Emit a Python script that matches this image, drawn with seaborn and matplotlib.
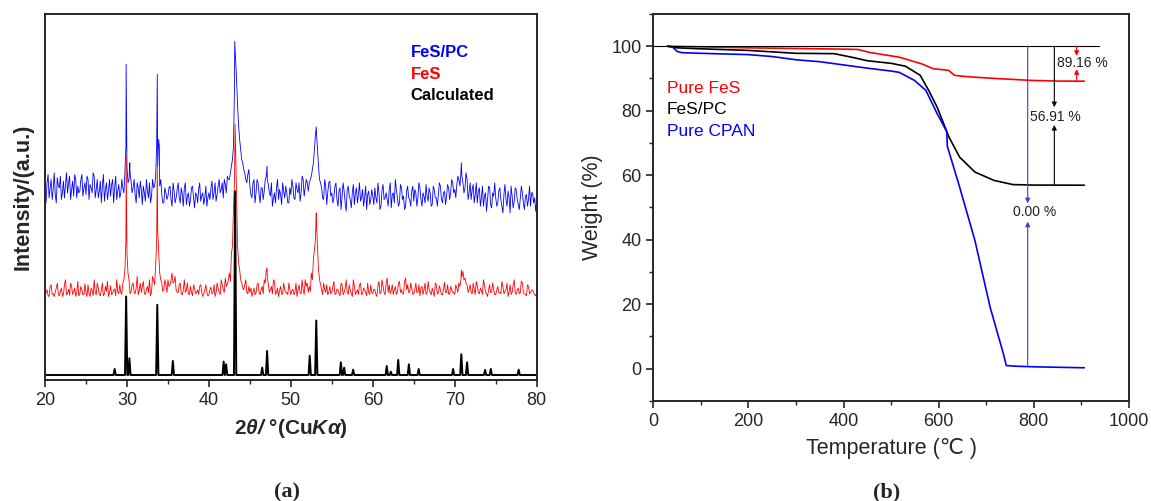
import numpy as np
import pandas as pd
import matplotlib
matplotlib.use("Agg")
import matplotlib.pyplot as plt
from matplotlib.ticker import MultipleLocator, NullLocator
import seaborn as sns

# ---------------- (a) XRD data ----------------
xrd_start, xrd_stop, xrd_step = 20.0, 80.0, 0.25
# values read on the 0.25-degree grid (20.00 ... 80.00)
fespc_vals = [
    560, 590, 545, 600, 570, 555, 605, 575, 540, 595, 585, 560, 610, 570, 550, 600, 580, 565, 615, 575,
    555, 600, 585, 560, 610, 570, 545, 595, 580, 535, 590, 565, 550, 600, 575, 540, 585, 560, 575, 620,
    640, 600, 595, 575, 555, 590, 545, 570, 580, 535, 565, 590, 550, 575, 610, 640, 580, 555, 530, 560,
    550, 580, 520, 565, 545, 590, 530, 555, 575, 525, 560, 540, 580, 515, 555, 570, 535, 560, 545, 520,
    560, 575, 540, 590, 555, 600, 570, 545, 585, 610, 600, 640, 700, 960, 820, 720, 660, 630, 600, 615,
    580, 545, 600, 560, 590, 530, 575, 565, 610, 585, 550, 520, 560, 575, 540, 555, 590, 545, 560, 530,
    555, 580, 540, 570, 590, 560, 600, 575, 590, 590, 610, 650, 735, 690, 600, 575, 540, 580, 560, 595,
    560, 545, 590, 520, 575, 550, 565, 505, 580, 540, 560, 525, 575, 555, 535, 570, 545, 510, 565, 540,
    550, 575, 530, 560, 520, 585, 545, 540, 570, 515, 560, 600, 545, 530, 575, 550, 520, 580, 540, 565,
    535, 560, 545, 575, 520, 550, 585, 535, 560, 525, 570, 545, 555, 580, 530, 565, 550, 575, 560, 590,
    570, 585, 600, 620, 590, 575, 600, 560, 540, 585, 555, 530, 575, 545, 520, 560, 540, 575, 515, 550,
    545, 530, 575, 520, 555, 540, 565, 500, 550, 535, 570, 525, 545, 560, 510, 555, 540, 520, 560, 545,
    535,
]
# values read half-way between grid points (20.125 ... 79.875)
fespc_mid = [
    530, 615, 575, 540, 620, 530, 580, 610, 560, 545, 620, 590, 540, 595, 615, 545, 560, 600, 550, 590,
    610, 540, 575, 620, 545, 600, 565, 530, 615, 570, 540, 600, 585, 530, 610, 565, 545, 600, 560, 700,
    590, 620, 560, 600, 530, 575, 595, 525, 560, 600, 545, 530, 600, 580, 700, 720, 600, 530, 575, 540,
    575, 540, 590, 530, 570, 545, 575, 520, 590, 550, 520, 575, 545, 560, 530, 590, 550, 525, 580, 545,
    540, 595, 560, 535, 580, 560, 590, 600, 560, 600, 620, 660, 880, 900, 760, 690, 650, 620, 590, 630,
    555, 590, 530, 600, 555, 575, 540, 600, 600, 560, 590, 545, 530, 600, 570, 525, 565, 580, 530, 575,
    600, 545, 590, 560, 535, 610, 550, 600, 565, 600, 630, 690, 740, 640, 590, 545, 600, 525, 590, 550,
    530, 580, 540, 565, 510, 590, 530, 570, 550, 515, 585, 560, 530, 590, 545, 520, 580, 555, 525, 570,
    525, 545, 590, 510, 570, 540, 560, 520, 590, 555, 530, 570, 520, 585, 540, 510, 565, 545, 520, 580,
    570, 520, 590, 540, 560, 530, 550, 575, 520, 580, 545, 520, 590, 540, 560, 525, 585, 540, 600, 560,
    545, 610, 580, 610, 560, 620, 540, 590, 570, 530, 590, 565, 520, 580, 550, 505, 580, 525, 560, 590,
    520, 565, 540, 500, 585, 520, 545, 580, 515, 575, 540, 510, 580, 530, 550, 520, 580, 560, 530, 505,
]
fespc_peak_x = [29.9, 30.35, 33.7, 33.95, 43.15, 47.1, 53.1, 70.8]
fespc_peak_y = [945, 650, 915, 700, 1013, 640, 757, 650]

fes_vals = [
    255, 270, 250, 285, 258, 262, 290, 252, 275, 256, 300, 260, 254, 280, 262, 250, 295, 258, 270, 255,
    262, 285, 250, 268, 300, 255, 276, 252, 290, 258, 265, 250, 282, 260, 272, 300, 258, 262, 290, 330,
    380, 300, 265, 290, 258, 310, 270, 262, 295, 256, 280, 300, 265, 300, 340, 450, 320, 290, 270, 285,
    300, 285, 320, 295, 270, 262, 290, 255, 300, 268, 258, 280, 252, 275, 262, 256, 285, 250, 270, 262,
    255, 278, 260, 250, 290, 262, 300, 270, 305, 285, 320, 380, 520, 700, 400, 330, 290, 270, 300, 258,
    262, 250, 275, 260, 290, 255, 280, 300, 330, 285, 270, 258, 295, 262, 250, 280, 258, 270, 262, 290,
    255, 272, 262, 250, 285, 258, 270, 300, 290, 280, 320, 360, 420, 400, 300, 270, 290, 262, 255, 280,
    262, 295, 258, 270, 252, 285, 262, 300, 256, 268, 250, 280, 262, 256, 290, 258, 270, 252, 262, 285,
    258, 270, 250, 295, 262, 280, 255, 305, 285, 268, 256, 280, 262, 295, 270, 258, 305, 285, 262, 275,
    258, 290, 262, 252, 280, 270, 256, 295, 262, 275, 250, 285, 260, 270, 255, 292, 262, 258, 280, 262,
    256, 275, 290, 300, 325, 305, 285, 270, 262, 290, 256, 280, 258, 268, 300, 262, 250, 285, 262, 270,
    255, 280, 262, 295, 258, 270, 250, 285, 262, 300, 256, 275, 262, 290, 258, 252, 280, 262, 270, 255,
    260,
]
fes_mid = [
    262, 252, 280, 256, 250, 275, 258, 265, 250, 285, 255, 272, 290, 256, 275, 262, 252, 280, 255, 288,
    250, 258, 275, 252, 262, 290, 256, 270, 252, 280, 295, 262, 255, 270, 252, 265, 285, 256, 300, 420,
    320, 258, 285, 262, 275, 255, 290, 280, 258, 270, 262, 252, 310, 285, 420, 380, 300, 265, 300, 262,
    280, 300, 290, 310, 262, 285, 258, 270, 262, 290, 255, 262, 285, 258, 270, 280, 262, 258, 285, 252,
    270, 258, 285, 262, 275, 256, 285, 262, 280, 300, 295, 400, 600, 550, 350, 300, 275, 285, 262, 280,
    275, 262, 255, 285, 262, 270, 258, 290, 310, 262, 280, 300, 256, 275, 268, 256, 290, 262, 255, 270,
    268, 255, 290, 270, 262, 300, 256, 280, 262, 265, 300, 390, 470, 330, 285, 256, 270, 285, 262, 258,
    280, 256, 272, 258, 290, 255, 275, 262, 285, 258, 300, 256, 270, 285, 255, 275, 262, 290, 256, 262,
    272, 256, 282, 258, 300, 262, 290, 262, 258, 285, 270, 256, 290, 262, 258, 295, 270, 262, 290, 256,
    270, 262, 285, 275, 256, 290, 262, 270, 255, 262, 290, 258, 282, 256, 272, 262, 285, 256, 270, 262,
    285, 262, 280, 310, 300, 290, 262, 285, 258, 272, 295, 262, 275, 256, 285, 258, 270, 262, 290, 256,
    270, 262, 258, 280, 265, 290, 262, 256, 285, 262, 270, 258, 296, 262, 256, 285, 258, 268, 262, 252,
]
fes_peak_x = [29.9, 33.7, 43.2, 47.1, 53.1, 70.8]
fes_peak_y = [670, 645, 765, 335, 500, 330]

calc_base = 15
calc_peak_x = [28.5, 29.9, 30.3, 33.7, 35.6, 41.8, 42.1, 43.2, 46.5, 47.1, 52.3, 53.1,
               56.1, 56.5, 57.6, 61.7, 62.2, 63.1, 64.4, 65.6, 69.8, 70.8, 71.5, 73.7,
               74.4, 77.8]
calc_peak_h = [18, 235, 50, 210, 42, 40, 32, 550, 22, 72, 58, 163,
               38, 22, 16, 27, 10, 45, 32, 18, 18, 62, 38, 15,
               18, 16]

xrd_legend = ["FeS/PC", "FeS", "Calculated"]
xrd_colors = ["#0000ff", "#ff0000", "#000000"]

# ---------------- (b) TGA data ----------------
t_fes = [30, 100, 200, 300, 400, 430, 454, 517, 565, 589, 610, 621, 633, 650, 676, 720, 795, 850, 906]
w_fes = [100, 99.8, 99.5, 99.3, 99.1, 99.0, 98.1, 96.6, 94.5, 93.0, 92.7, 92.5, 91.0, 90.7, 90.4,
         90.0, 89.4, 89.2, 89.16]
t_pc = [30, 50, 100, 200, 300, 380, 420, 450, 500, 530, 561, 580, 597, 621, 644, 676, 716, 756, 800, 906]
w_pc = [100, 99.5, 99.2, 98.7, 97.8, 97.7, 96.5, 95.5, 94.7, 93.8, 91.0, 86.0, 81.0, 72.0, 65.6,
        61.0, 58.4, 57.1, 56.95, 56.91]
t_cpan = [30, 40, 50, 60, 100, 200, 250, 300, 350, 400, 450, 500, 517, 549, 573, 597, 617, 618,
          644, 676, 708, 724, 736, 742, 760, 800, 906]
w_cpan = [100, 99.8, 98.4, 98.0, 97.8, 97.4, 96.8, 95.8, 95.2, 94.2, 93.2, 92.3, 91.9, 89.4, 86.3,
          79.0, 73.5, 69.0, 56.3, 39.8, 19.1, 10.8, 4.6, 1.0, 0.8, 0.6, 0.3]
tga_labels = ["Pure FeS", "FeS/PC", "Pure CPAN"]
tga_colors = ["#ff0000", "#000000", "#0000ff"]

ref_line_x = [0, 936]
ref_line_y = [100, 100]
ann_x = [890, 843, 787]
ann_top_tip = [97.0, 81.1, 51.3]
ann_bot_start = [89.16, 56.91, 0.8]
ann_bot_tip = [92.9, 75.6, 45.6]
ann_text = ["89.16 %", "56.91 %", "0.00 %"]
ann_text_x = [901, 845, 802]
ann_text_y = [94.7, 78.2, 48.7]
ann_colors = ["#ff0000", "#000000", "#4040c8"]

# ---------------- style ----------------
sns.set_style("ticks")
plt.rcParams["font.family"] = ["Liberation Sans", "DejaVu Sans"]
plt.rcParams["mathtext.fontset"] = "custom"
plt.rcParams["mathtext.rm"] = "Liberation Sans"
plt.rcParams["mathtext.it"] = "Liberation Sans:italic"
plt.rcParams["mathtext.bf"] = "Liberation Sans:bold"
plt.rcParams["mathtext.bfit"] = "Liberation Sans:bold:italic"

fig = plt.figure(figsize=(11.51, 5.01), dpi=100)
axA = fig.add_axes([0.0391, 0.2415, 0.4272, 0.7305])
axB = fig.add_axes([0.5676, 0.1996, 0.4133, 0.7725])


def assemble(vals, mids, px, py):
    grid = np.arange(xrd_start, xrd_stop + xrd_step / 2, xrd_step)
    grid_mid = grid[:-1] + xrd_step / 2
    x = np.concatenate([grid, grid_mid, np.asarray(px, float)])
    y = np.concatenate([np.asarray(vals, float), np.asarray(mids, float), np.asarray(py, float)])
    order = np.argsort(x, kind="stable")
    return pd.DataFrame({"x": x[order], "y": y[order]})


df_pc = assemble(fespc_vals, fespc_mid, fespc_peak_x, fespc_peak_y)
df_fes = assemble(fes_vals, fes_mid, fes_peak_x, fes_peak_y)

cx = [xrd_start]
cy = [calc_base]
hw = 0.14
for p, h in zip(calc_peak_x, calc_peak_h):
    cx += [p - hw, p, p + hw]
    cy += [calc_base, calc_base + h, calc_base]
cx.append(xrd_stop)
cy.append(calc_base)
df_calc = pd.DataFrame({"x": cx, "y": cy}).sort_values("x", kind="stable")

sns.lineplot(data=df_pc, x="x", y="y", estimator=None, sort=False, color=xrd_colors[0],
             linewidth=0.6, ax=axA)
sns.lineplot(data=df_fes, x="x", y="y", estimator=None, sort=False, color=xrd_colors[1],
             linewidth=0.6, ax=axA)
sns.lineplot(data=df_calc, x="x", y="y", estimator=None, sort=False, color=xrd_colors[2],
             linewidth=1.4, ax=axA)

axA.set_xlim(20, 80)
axA.set_ylim(0, 1095)
axA.xaxis.set_major_locator(MultipleLocator(10))
axA.xaxis.set_minor_locator(MultipleLocator(5))
axA.yaxis.set_major_locator(NullLocator())
axA.yaxis.set_minor_locator(NullLocator())
axA.tick_params(axis="x", which="major", length=5, width=1.2, labelsize=13, direction="out")
axA.tick_params(axis="x", which="minor", length=3, width=1.0, direction="out")
for s in axA.spines.values():
    s.set_visible(True)
    s.set_linewidth(1.4)
axA.set_xlabel(r"$\mathbf{2}\mathbfit{\theta/}\ \mathbf{°(Cu}\mathbfit{K\alpha}\mathbf{)}$",
               fontsize=15, labelpad=6)
axA.set_ylabel("Intensity/(a.u.)", fontsize=15.5, fontweight="bold", labelpad=8)
for i, (t, c) in enumerate(zip(xrd_legend, xrd_colors)):
    axA.text(0.744, 0.895 - i * 0.059, t, color=c, fontsize=12, fontweight="bold",
             transform=axA.transAxes, ha="left", va="center")

# ---------------- (b) ----------------
for t, w, lab, c in zip([t_fes, t_pc, t_cpan], [w_fes, w_pc, w_cpan], tga_labels, tga_colors):
    sns.lineplot(x=t, y=w, estimator=None, sort=False, color=c, linewidth=1.2, ax=axB)

sns.lineplot(x=ref_line_x, y=ref_line_y, estimator=None, sort=False, color="black",
             linewidth=0.8, ax=axB)

for xa, tt, bs, bt, txt, tx, ty, c in zip(ann_x, ann_top_tip, ann_bot_start, ann_bot_tip,
                                          ann_text, ann_text_x, ann_text_y, ann_colors):
    ap = dict(arrowstyle="-|>", color=c, lw=0.8, mutation_scale=7, shrinkA=0, shrinkB=0)
    axB.annotate("", xy=(xa, tt), xytext=(xa, 100), arrowprops=ap)
    axB.annotate("", xy=(xa, bt), xytext=(xa, bs), arrowprops=ap)
    axB.text(tx, ty, txt, fontsize=10, color="#202020", ha="center", va="center")

for i, (lab, c) in enumerate(zip(tga_labels, tga_colors)):
    axB.text(28, 87.0 - i * 6.75, lab, color=c, fontsize=12.5, ha="left", va="center")

axB.set_xlim(0, 1000)
axB.set_ylim(-10, 110)
axB.xaxis.set_major_locator(MultipleLocator(200))
axB.xaxis.set_minor_locator(MultipleLocator(100))
axB.yaxis.set_major_locator(MultipleLocator(20))
axB.yaxis.set_minor_locator(MultipleLocator(10))
axB.tick_params(which="major", length=5, width=1.2, labelsize=13, direction="out")
axB.tick_params(which="minor", length=3, width=1.0, direction="out")
for s in axB.spines.values():
    s.set_visible(True)
    s.set_linewidth(1.4)
axB.set_xlabel("Temperature (\u2103 )", fontsize=15.5, labelpad=6)
axB.set_ylabel("Weight (%)", fontsize=15.5, labelpad=6)

fig.text(0.249, 0.017, "(a)", fontsize=16, fontweight="bold", family="Liberation Serif",
         ha="center", va="center")
fig.text(0.770, 0.017, "(b)", fontsize=16, fontweight="bold", family="Liberation Serif",
         ha="center", va="center")

fig.savefig("out.png", dpi=100)
